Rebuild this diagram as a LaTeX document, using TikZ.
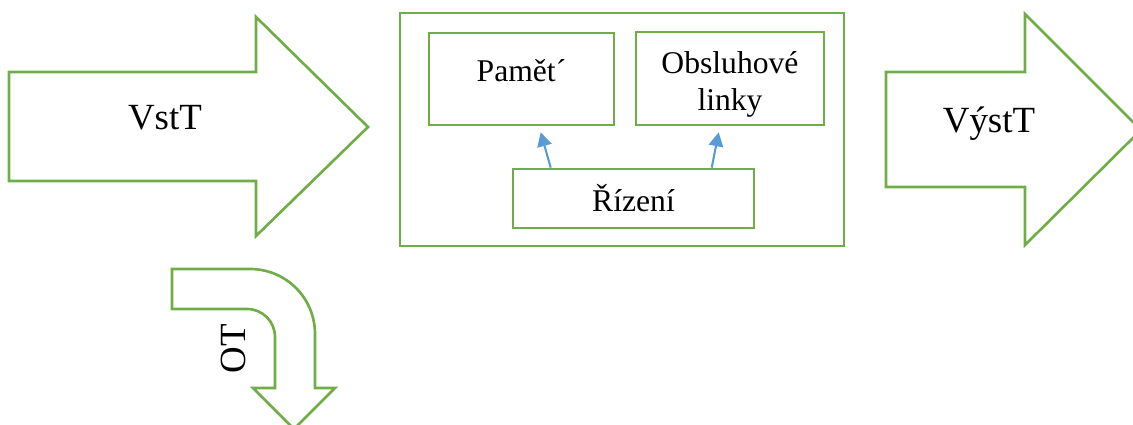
\documentclass[tikz,border=0pt]{standalone}
\usepackage{fontspec}
\setmainfont{Liberation Serif}
\usepackage{xcolor}
\usetikzlibrary{arrows.meta,calc}
\definecolor{fgreen}{HTML}{70AD47}
\definecolor{lblue}{HTML}{5B9BD5}

\begin{document}
\begin{tikzpicture}[x=0.02cm,y=-0.02cm,
    shp/.style={draw=fgreen,line width=1.5pt,line join=miter},
    box/.style={draw=fgreen,line width=1.5pt,inner sep=0pt},
    link/.style={draw=lblue,line width=1.2pt,-{Triangle[length=2.8mm,width=2.9mm]}},
    big/.style={font=\fontsize{21}{25}\selectfont},
    small/.style={font=\fontsize{18}{21}\selectfont,align=center}]
  \useasboundingbox (0,0) rectangle (1133,425);
  \clip (0,0) rectangle (1133,425);
  % input arrow
  \draw[shp] (9,72) -- (256,72) -- (256,17) -- (368,127) -- (256,236) -- (256,181) -- (9,181) -- cycle;
  \node[big,anchor=base] (vst) at (165,130) {VstT};
  % output arrow
  \draw[shp] (886,72) -- (1025,72) -- (1025,14) -- (1141,130) -- (1025,245) -- (1025,187) -- (886,187) -- cycle;
  \node[big,anchor=base] (vyst) at (989,133) {VýstT};
  % bent arrow
  \draw[shp] (172,269) -- (250,269) .. controls (286,269) and (315,298) .. (315,334)
    -- (315,388) -- (335,388) -- (294,429) -- (253,388) -- (275,388) -- (275,337)
    .. controls (275,321.5) and (262.5,309) .. (247,309) -- (172,309) -- cycle;
  \node[big,rotate=90] (ot) at (233,349) {OT};
  % device
  \node[box,minimum width=8.88cm,minimum height=4.66cm] (dev) at (622,129.5) {};
  \node[box,minimum width=3.7cm,minimum height=1.84cm] (pam) at (521.5,79) {};
  \node[small,anchor=base] (pamt) at (521.5,82) {Pamět´};
  \node[box,minimum width=3.76cm,minimum height=1.86cm] (obs) at (730,78.5) {};
  \node[small] (obst) at (730,84) {Obsluhové\\linky};
  \node[box,small,minimum width=4.82cm,minimum height=1.18cm] (riz) at (633.5,198.5) {Řízení};
  \draw[link] ($(riz.north west)+(39,0)$) -- ($(pam.south west)+(113,6)$);
  \draw[link] ($(riz.north west)+(200,0)$) -- ($(obs.south west)+(84,6)$);
\end{tikzpicture}
\end{document}
